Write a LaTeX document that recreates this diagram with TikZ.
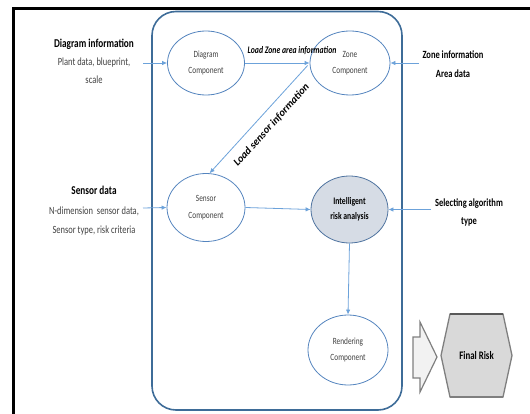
\documentclass[tikz,border=0pt]{standalone}
\usepackage{fontspec}
\setmainfont{Carlito}[FakeStretch=0.77]
\newfontfamily\slantfont{Carlito}
\usetikzlibrary{shapes.geometric,arrows.meta}

\definecolor{framecol}{RGB}{62,108,152}
\definecolor{ellcol}{RGB}{84,132,190}
\definecolor{arrcol}{RGB}{108,162,218}
\definecolor{riskfill}{RGB}{214,220,229}
\definecolor{riskline}{RGB}{80,116,160}
\definecolor{softtext}{RGB}{64,64,64}
\definecolor{hexfill}{RGB}{217,217,217}
\definecolor{hexline}{RGB}{127,127,127}
\definecolor{hexdark}{RGB}{89,89,89}
\definecolor{blockfill}{RGB}{242,242,242}

\tikzset{
  comp/.style={ellipse, draw=ellcol, line width=0.8pt, inner sep=0pt,
    minimum width=78pt, minimum height=66pt, align=center,
    text=softtext, font=\fontsize{9.5}{16.5}\selectfont},
  riskcomp/.style={comp, fill=riskfill, draw=riskline, text=black,
    font=\bfseries\fontsize{10}{15}\selectfont},
  flow/.style={draw=arrcol, line width=0.8pt,
    -{Latex[length=5pt,width=4.5pt]}},
  sideinfo/.style={align=center, inner sep=0pt, text=softtext},
  sidehead/.style={align=center, inner sep=0pt, text=black,
    font=\bfseries\fontsize{11}{18.5}\selectfont},
  flowlabel/.style={inner sep=0pt, text=black,
    font=\bfseries\itshape\fontsize{10}{12}\selectfont}
}

\begin{document}
\begin{tikzpicture}[x=1pt,y=-1pt]
\useasboundingbox (0,0) rectangle (530,414);

% outer page frame
\draw[line width=3pt, line cap=rect] (13.5,416) -- (13.5,8.5) -- (532,8.5);

% system boundary
\draw[framecol, line width=1.6pt, rounded corners=24pt] (152,11.5) rectangle (402,410);

% components
\node[comp, minimum width=77pt, minimum height=64pt] (diagram) at (206,63) {Diagram\\Component};
\node[comp, minimum width=80pt, minimum height=64pt] (zone) at (350,63) {Zone\\Component};
\node[comp, minimum width=78pt, minimum height=68pt] (sensor) at (206,207.5) {Sensor\\Component};
\node[riskcomp, minimum width=77pt, minimum height=67pt] (risk) at (349.5,209.5) {Intelligent\\risk analysis};
\node[comp, minimum width=80pt, minimum height=70pt] (render) at (348,350) {Rendering\\Component};

% external inputs
\node[sideinfo, font=\fontsize{11}{18}\selectfont] (diaginfo) at (94,61.5)
  {{\color{black}\bfseries\fontsize{12}{18}\selectfont Diagram information}\\
   Plant data, blueprint,\\
   scale};
\node[sideinfo, font=\fontsize{11}{19.5}\selectfont] (sensinfo) at (94,211)
  {{\color{black}\bfseries\fontsize{12}{19.5}\selectfont Sensor data}\\
   N-dimension\ \ sensor data,\\
   Sensor type, risk criteria};
\node[sidehead] (zoneinfo) at (453,64) {Zone information\\Area data};
\node[sidehead] (selinfo) at (469,212.5) {Selecting algorithm\\type};

\coordinate (diagin) at (143,63);
\coordinate (sensin) at (143,208);
\coordinate (zonein) at (419,63);
\coordinate (selin) at (431,209.5);

% data flow
\draw[flow] (diagin) -- (diagram.west);
\draw[flow] (sensin) -- (sensor.west);
\draw[flow] (zonein) -- (zone.east);
\draw[flow] (selin) -- (risk.east);
\draw[flow] (diagram.east) -- (zone.west);
\draw[flow] ([shift={(-2,2.5)}]zone.west) -- (sensor.84);
\draw[flow] (sensor.east) -- (risk.west);
\draw[flow] (risk.south) -- (render.north);

\node[flowlabel] (loadzone) at (292,50.5) {Load Zone area information};
\node[flowlabel, font=\bfseries\itshape\fontsize{10.6}{12}\slantfont, rotate=47.7] (loadsensor) at (271.5,125) {Load sensor information};

% output block arrow
\draw[hexline, fill=blockfill, line width=1.2pt, line join=miter]
  (413,337) -- (420,337) -- (420,322) -- (437,357) -- (420,392) -- (420,378) -- (413,378) -- cycle;

% final result
\draw[hexline, fill=hexfill, line width=1.3pt]
  (450,314) -- (503,314) -- (512,355.5) -- (503,397) -- (450,397) -- (441,355.5) -- cycle;
\draw[hexdark, line width=2.5pt] (450,314) -- (503,314);
\draw[hexline, line width=2pt] (450,397) -- (503,397);
\node[inner sep=0pt, font=\bfseries\fontsize{11.5}{14}\selectfont] (finalrisk) at (476.5,355.5) {Final Risk};
\end{tikzpicture}
\end{document}
